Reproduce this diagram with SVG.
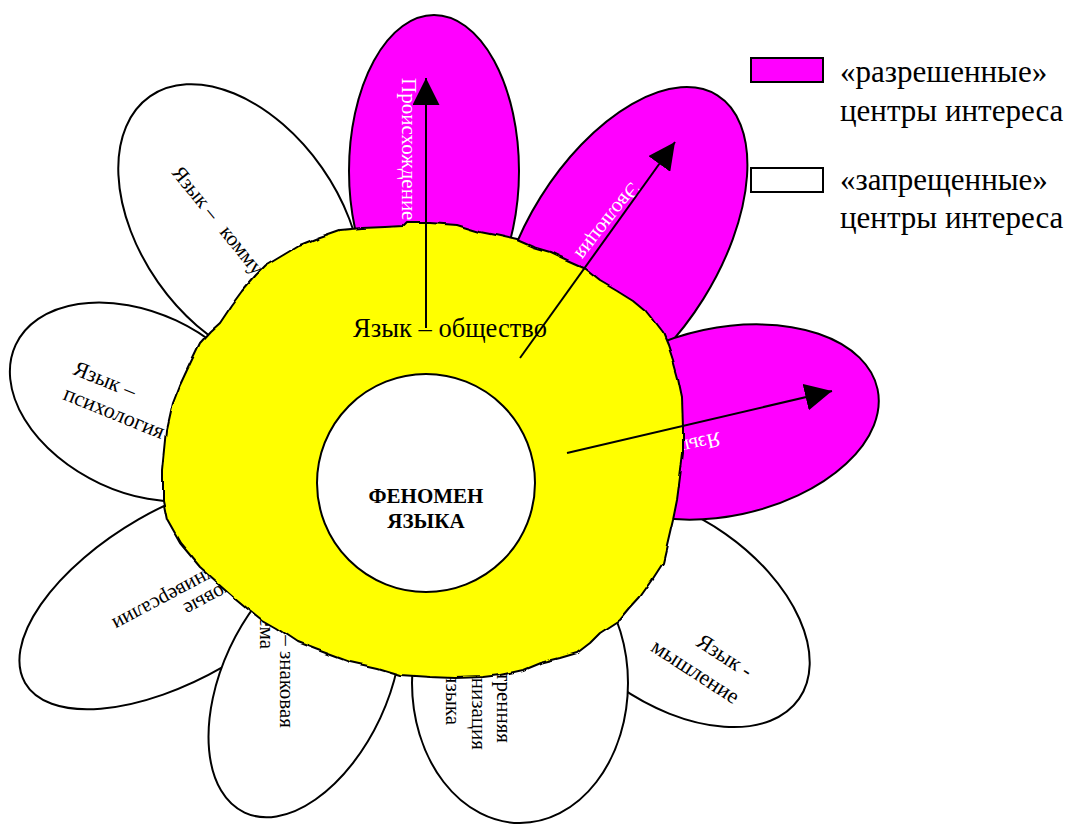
<svg xmlns="http://www.w3.org/2000/svg" width="1072" height="825" viewBox="0 0 1072 825">
<defs>
<style>
.pw{fill:#ffffff;stroke:#000;stroke-width:2}
.pm{fill:#ff00ff;stroke:#000;stroke-width:2}
.t{font-family:"Liberation Serif","Times New Roman",serif;font-size:21px;fill:#000}
.tw{font-family:"Liberation Serif","Times New Roman",serif;font-size:21px;fill:#fff}
.lg{font-family:"Liberation Serif","Times New Roman",serif;font-size:31px;fill:#000}
.ar{stroke:#000;stroke-width:2;fill:none;marker-end:url(#ah)}
</style>
<marker id="ah" markerUnits="userSpaceOnUse" markerWidth="27" markerHeight="27" viewBox="0 0 27 27" refX="27" refY="13.5" orient="auto">
<path d="M0,0 L27,13.5 L0,27 Z" fill="#000"/>
</marker>
<filter id="wob" x="-5%" y="-5%" width="110%" height="110%">
<feTurbulence type="fractalNoise" baseFrequency="0.035" numOctaves="2" seed="4" result="n"/>
<feDisplacementMap in="SourceGraphic" in2="n" scale="5" xChannelSelector="R" yChannelSelector="G"/>
</filter>
</defs>
<rect width="1072" height="825" fill="#fff"/>

<g id="petal-kommunikatsiya">
<ellipse class="pw" cx="0" cy="0" rx="157" ry="100" transform="translate(240,225) rotate(55)"/>
<text class="t" transform="translate(171,173) rotate(51)">Язык –<tspan dx="14">коммуникация</tspan></text>
</g>
<g id="petal-psikhologiya">
<ellipse class="pw" cx="0" cy="0" rx="135" ry="90" transform="translate(138,402) rotate(25)"/>
<text class="t" style="font-size:22px" transform="translate(72,374) rotate(22)">Язык –<tspan x="0" y="27">психология</tspan></text>
</g>
<g id="petal-universalii">
<ellipse class="pw" cx="0" cy="0" rx="180" ry="85" transform="translate(181,593) rotate(-30)"/>
<text class="t" text-anchor="end" transform="translate(182,605) rotate(152)">Языковые</text>
<text class="t" text-anchor="end" transform="translate(111,620) rotate(152)">универсалии</text>
</g>
<g id="petal-znakovaya">
<ellipse class="pw" cx="0" cy="0" rx="143" ry="83" transform="translate(305,683) rotate(-65)"/>
<text class="t" text-anchor="end" transform="translate(280,728) rotate(90)">Язык – знаковая</text>
<text class="t" text-anchor="end" transform="translate(260,649) rotate(90)">система</text>
</g>
<g id="petal-myshlenie">
<ellipse class="pw" cx="0" cy="0" rx="155" ry="93" transform="translate(672,610) rotate(35)"/>
<text class="t" style="font-size:22px" transform="translate(695,645) rotate(33)">Язык -<tspan x="-35" y="29">мышление</tspan></text>
</g>
<g id="petal-vnutrennyaya">
<ellipse class="pw" cx="520" cy="683" rx="108" ry="140"/>
<text class="t" text-anchor="end" transform="translate(497,743) rotate(90)">Внутренняя</text>
<text class="t" text-anchor="end" transform="translate(472,750) rotate(90)">организация</text>
<text class="t" text-anchor="end" transform="translate(446,725) rotate(90)">языка</text>
</g>
<g id="petal-proiskhozhdenie">
<ellipse class="pm" cx="434" cy="171" rx="85" ry="156"/>
<text class="tw" transform="translate(402,78) rotate(90)">Происхождение</text>
</g>
<g id="petal-evolyutsiya">
<ellipse class="pm" cx="0" cy="0" rx="180" ry="96" transform="translate(622,248) rotate(-58)"/>
<text class="tw" transform="translate(631,181) rotate(128)">Эволюция</text>
</g>
<g id="petal-yazyk">
<ellipse class="pm" cx="0" cy="0" rx="158" ry="94" transform="translate(723,422) rotate(-12)"/>
<text class="tw" transform="translate(719,432) rotate(167)">Язык</text>
</g>

<g id="society-ring">
<path filter="url(#wob)" d="M340,230 L362,228 L385,227 L403,226 L406,223 L430,223 L457,225 L470,229 L480,232 L500,236 L517,240 L533,247 L550,252 L567,260 L585,268 L600,280 L617,290 L633,300 L645,310 L653,320 L663,333 L668,345 L673,360 L678,378 L682,397 L683,427 L683,453 L680,477 L677,500 L673,520 L670,533 L663,563 L652,580 L640,597 L630,608 L620,620 L600,633 L590,643 L577,653 L560,658 L540,663 L523,670 L500,675 L483,677 L455,678 L430,677 L400,675 L377,668 L350,662 L323,652 L297,642 L276,628 L262,620 L247,608 L235,598 L217,582 L200,567 L190,555 L180,543 L167,520 L163,500 L163,470 L165,450 L167,430 L173,403 L180,385 L187,370 L200,343 L210,332 L220,323 L232,305 L243,290 L255,276 L265,266 L280,257 L300,245 L320,237 Z" fill="#ffff00" stroke="#000" stroke-width="2" stroke-linejoin="round"/>
<text x="450" y="337" text-anchor="middle" style="font-family:'Liberation Serif','Times New Roman',serif;font-size:26.5px;fill:#000">Язык – общество</text>
</g>

<g id="center">
<circle cx="426" cy="483" r="109" fill="#fff" stroke="#000" stroke-width="2"/>
<text text-anchor="middle" style="font-family:'Liberation Serif','Times New Roman',serif;font-size:21px;font-weight:bold;fill:#000"><tspan x="426" y="503">ФЕНОМЕН</tspan><tspan x="426" y="528">ЯЗЫКА</tspan></text>
</g>

<g id="connectors">
<line class="ar" x1="426" y1="328" x2="426" y2="78"/>
<line class="ar" x1="520" y1="358" x2="675" y2="142"/>
<line class="ar" x1="567" y1="453" x2="832" y2="391"/>
</g>

<g id="legend">
<rect x="751" y="58" width="72" height="24" fill="#ff00ff" stroke="#000" stroke-width="2"/>
<text class="lg" x="840" y="82">«разрешенные»</text>
<text class="lg" x="840" y="121">центры интереса</text>
<rect x="751" y="168" width="72" height="24" fill="#fff" stroke="#000" stroke-width="2"/>
<text class="lg" x="840" y="190">«запрещенные»</text>
<text class="lg" x="840" y="228">центры интереса</text>
</g>
</svg>
